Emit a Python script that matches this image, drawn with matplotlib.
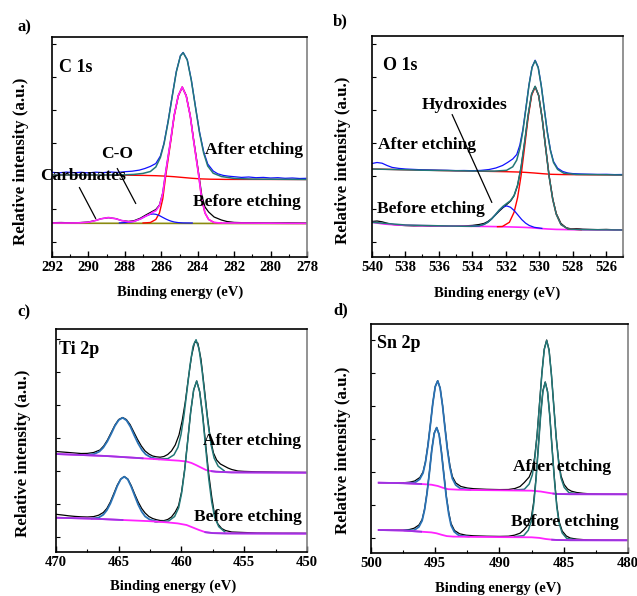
import numpy as np
import matplotlib
matplotlib.use("Agg")
import matplotlib.pyplot as plt
from matplotlib.ticker import MultipleLocator, FixedLocator

# ---------------- panel a : C 1s ----------------
# after etching
a_aft_bg_x = [292, 288, 287, 286.3, 285.8, 285.3, 284.8, 284.3, 283.8, 283.3, 282.5, 278]
a_aft_bg_y = [82, 81.8, 81.6, 81.3, 80.9, 80.3, 79.5, 78.7, 78.1, 77.8, 77.6, 77.5]
a_aft_fit_x = [292, 289, 288, 287.5, 287.0, 286.6, 286.3, 286.05, 285.85, 285.625, 285.4, 285.175, 284.95,
               284.8, 284.575, 284.35, 284.125, 283.9, 283.675, 283.45, 283.15, 282.7, 282, 281, 278]
a_aft_fit_y = [82, 82, 82.2, 82.6, 83.6, 85.5, 90, 99.5, 113, 135, 160.5, 185, 201,
               204.3, 197, 176.5, 150, 124, 104, 91, 83.8, 80.5, 78.6, 77.9, 77.5]
a_aft_raw_x = [292, 291.6, 291.2, 290.8, 290.4, 290, 289.6, 289.2, 288.8, 288.4, 288, 287.6, 287.2, 286.9,
               286.6, 286.3, 286.05, 285.85, 285.625, 285.4, 285.175, 284.95, 284.8, 284.575, 284.35,
               284.125, 283.9, 283.675, 283.45, 283.15, 282.9, 282.6, 282.3, 282, 281.6, 281.2, 280.8,
               280.4, 280, 279.6, 279.2, 278.8, 278.4, 278]
a_aft_raw_y = [84.6, 84.2, 84.9, 84.3, 84.7, 84.1, 84.8, 84.4, 85, 84.6, 85.3, 85.8, 86.9, 88.5,
               90.6, 93.5, 101, 114, 136, 161, 185.5, 201.3, 204.6, 197.4, 177,
               150.5, 125, 105.5, 93, 86, 83.2, 81.6, 80.8, 80.3, 79.6, 80, 79.3,
               79.6, 79, 79.3, 78.7, 79, 78.5, 78.7]
# before etching
a_bef_base_x = [292, 278]
a_bef_base_y = [33.8, 33.4]
a_bef_cc_x = [287.0, 286.6, 286.3, 286.1, 285.92, 285.75, 285.59, 285.47, 285.29, 285.07, 284.85,
              284.63, 284.41, 284.23, 284.11, 283.95, 283.78, 283.6, 283.4, 283.1, 282.7]
a_bef_cc_y = [34, 34.5, 37.5, 44, 58, 82, 102, 117, 141, 161, 170,
              161, 141, 117, 102, 82, 58, 44, 37.5, 34.5, 34]
a_bef_co_x = [288.3, 287.8, 287.5, 287.15, 286.85, 286.6, 286.45, 286.3, 286.1, 285.92, 285.75,
              285.59, 285.47, 285.29, 285.07, 284.8, 284.3]
a_bef_co_y = [34.1, 34.6, 35.5, 38, 40.9, 42.7, 43, 42.7, 41.4, 39.6, 38,
              36.7, 35.9, 35, 34.4, 34.1, 34]
a_bef_fit_x = [292, 291, 290.5, 290, 289.6, 289.3, 288.9, 288.5, 288.2, 287.8, 287.5, 287.15, 286.85,
               286.6, 286.45, 286.3, 286.1, 285.92, 285.75, 285.59, 285.47, 285.29, 285.07, 284.85,
               284.63, 284.41, 284.23, 284.11, 283.95, 283.78, 283.6, 283.4, 283.1, 282.7, 282, 280, 278]
a_bef_fit_y = [34, 34, 34.1, 34.8, 36.5, 38.2, 39.5, 38.2, 36.6, 35.2, 35.7, 38.0, 40.9,
               43.2, 45, 46.2, 51.4, 63.7, 86, 104.7, 118.9, 142, 161.4, 170,
               161, 141, 117, 102, 82, 58, 44, 37.5, 34.5, 34, 34, 33.8, 33.6]
a_bef_raw_x = [292, 291.5, 291, 290.5, 290, 289.6, 289.3, 288.9, 288.5, 288.2, 287.8, 287.5, 287.15,
               286.85, 286.6, 286.45, 286.3, 286.1, 285.92, 285.75, 285.59, 285.47, 285.29, 285.07,
               284.85, 284.63, 284.41, 284.23, 284.11, 283.95, 283.78, 283.6, 283.4, 283.1, 282.7,
               282.4, 282, 281.5, 281, 280, 279, 278]
a_bef_raw_y = [34.3, 34.5, 34.2, 34.4, 35, 36.6, 38.3, 39.3, 38.4, 36.5, 35.6, 36.3, 38.8,
               42, 44.5, 46, 47.5, 52, 64, 86, 104.5, 118.5, 142, 161,
               169.8, 161.5, 141.5, 118, 103.5, 84, 62, 50, 45, 40, 37,
               35.5, 34.6, 34.3, 34.2, 34, 34.1, 33.9]

# ---------------- panel b : O 1s ----------------
b_aft_bg_x = [540, 536, 533, 532, 531.3, 530.8, 530.3, 529.8, 529.3, 528.5, 527, 525]
b_aft_bg_y = [88, 86.5, 85.6, 85.3, 85, 84.6, 84, 83.3, 82.7, 82.4, 82.2, 82]
b_aft_fit_x = [540, 537, 534, 532.69, 531.96, 531.59, 531.35, 531.165, 530.98, 530.8, 530.616, 530.433,
               530.25, 530.067, 529.884, 529.7, 529.518, 529.335, 529.152, 528.908, 528.54, 527.81, 525]
b_aft_fit_y = [88, 86.8, 86, 85.9, 86.65, 90.2, 96.9, 108.5, 126.1, 148.6, 171.9, 189.7,
               196.3, 189.3, 171, 147.2, 124.2, 106.3, 94.5, 87.6, 83.8, 82.6, 82]
b_aft_raw_x = [540, 539.7, 539.4, 539.1, 538.8, 538.4, 538, 537.5, 537, 536.5, 536, 535.5, 535, 534.5,
               534, 533.5, 533, 532.6, 532.2, 531.9, 531.59, 531.35, 531.165, 530.98, 530.8, 530.616,
               530.433, 530.25, 530.067, 529.884, 529.7, 529.518, 529.335, 529.152, 528.908, 528.6,
               528.3, 528, 527.5, 527, 526.5, 526, 525.5, 525]
b_aft_raw_y = [93.5, 94.5, 93.8, 91.5, 89.6, 88.6, 88, 87.6, 87.2, 87, 86.8, 86.7, 86.4, 86.5,
               86.3, 86.6, 87.5, 89, 91.5, 94.5, 98, 102.5, 112, 128, 149.5, 172.5,
               190, 196.8, 189.8, 171.5, 147.8, 125, 107, 95.5, 88.8, 85.5,
               84, 83.4, 83, 82.8, 82.6, 82.7, 82.4, 82.5]
b_bef_bg_x = [540, 539.3, 538.5, 537, 535, 533, 532, 531, 530.5, 530, 529.5, 529, 528, 525]
b_bef_bg_y = [34.7, 33, 32, 31.3, 30.9, 30.5, 30.2, 29.7, 29.3, 28.6, 28, 27.6, 27.3, 27]
b_bef_ox_x = [532.5, 532.21, 531.79, 531.51, 531.3, 531.09, 530.88, 530.67, 530.46, 530.25, 530.04,
              529.83, 529.62, 529.41, 529.2, 528.99, 528.71, 528.29, 527.5]
b_bef_ox_y = [30.3, 30.5, 34.7, 44.7, 59.3, 81.5, 109.9, 139.3, 161.7, 170.1, 161.3,
              138.5, 108.7, 80, 57.6, 42.8, 32.5, 28.05, 27.35]
b_bef_oh_x = [534.05, 533.6, 533.3, 533.075, 532.85, 532.625, 532.4, 532.175, 531.95, 531.725, 531.5,
              531.275, 531.05, 530.825, 530.6, 530.3, 529.85]
b_bef_oh_y = [30.7, 31.2, 32.65, 34.8, 38.05, 42.3, 46.65, 49.9, 51.1, 49.75, 46.4,
              41.9, 37.4, 33.9, 31.5, 29.7, 28.6]
b_bef_fit_x = [540, 538, 536, 534.5, 534.05, 533.6, 533.3, 533.075, 532.85, 532.625, 532.4, 532.175,
               531.95, 531.725, 531.51, 531.3, 531.09, 530.88, 530.67, 530.46, 530.25, 530.04, 529.83,
               529.62, 529.41, 529.2, 528.99, 528.71, 528.29, 527.5, 525]
b_bef_fit_y = [34.7, 32, 31.2, 30.75, 30.7, 31.2, 32.65, 34.8, 38.05, 42.3, 46.9, 50.6,
               53.5, 56.3, 61.5, 71.9, 89.9, 114.9, 142, 163, 170.7, 161.5, 138.5,
               108.7, 80, 57.6, 42.8, 32.5, 28.05, 27.35, 27]
b_bef_raw_x = [540, 539.7, 539.4, 539.1, 538.8, 538.4, 538, 537.5, 537, 536.5, 536, 535.5, 535, 534.5,
               534, 533.6, 533.3, 533.075, 532.85, 532.625, 532.4, 532.175, 531.95, 531.725, 531.51,
               531.3, 531.09, 530.88, 530.67, 530.46, 530.25, 530.04, 529.83, 529.62, 529.41, 529.2,
               528.99, 528.71, 528.4, 528.1, 527.8, 527.4, 527, 526.5, 526, 525.5, 525]
b_bef_raw_y = [35.5, 36, 35.2, 33.8, 32.6, 31.8, 31.4, 31.1, 31.2, 30.9, 31, 30.7, 30.9, 31.1,
               31.6, 32.5, 33.6, 35.5, 38.4, 42, 45.8, 49.3, 52.5, 55.8, 61.2,
               71.5, 89.6, 114.6, 141.6, 162.8, 170.5, 161.6, 138.8, 109.2, 80.6, 58.4,
               43.6, 33.6, 29.3, 28.1, 28.4, 27.8, 27.6, 27.4, 27.6, 27.2, 27.3]

# ---------------- panel c : Ti 2p ----------------
c_aft_bg_x = [470, 466, 463.1, 460.2, 459.6, 459.2, 458.85, 458.45, 458.05, 457.6, 457.25, 456, 450]
c_aft_bg_y = [98, 96, 93.7, 91.3, 90.5, 89, 87, 84.5, 82, 80.8, 80.3, 79.6, 79.3]
c_aft_p1_x = [467.56, 466.95, 466.54, 466.23, 465.92, 465.61, 465.31, 465.0, 464.69,
              464.38, 464.07, 463.77, 463.46, 463.15, 462.85, 462.44, 461.82]
c_aft_p1_y = [97.1, 98, 100.5, 104.4, 110.4, 118, 126, 132, 134.2,
              131.6, 125.2, 116.7, 108.6, 102, 97.6, 94.6, 92.8]
c_aft_p3_x = [462.2, 461.08, 460.6, 460.28, 460.04, 459.8, 459.56, 459.32, 459.08, 458.84,
              458.6, 458.36, 458.12, 457.88, 457.64, 457.4, 457.08, 456.6]
c_aft_p3_y = [92.9, 93.4, 97.2, 104.7, 117.4, 136.8, 161.7, 186.9, 205.7, 212.3,
              202.9, 181.4, 153.7, 127.6, 107.2, 93.9, 85.8, 81.2]
c_aft_raw_x = [470, 469.5, 469, 468.5, 468, 467.5, 467, 466.5, 466.2, 465.9, 465.6, 465.3, 465, 464.69,
               464.4, 464.1, 463.8, 463.5, 463.2, 462.9, 462.6, 462.3, 462, 461.7, 461.4, 461.1, 460.8,
               460.5, 460.2, 459.95, 459.7, 459.45, 459.2, 458.95, 458.7, 458.45, 458.2, 457.95, 457.7,
               457.45, 457.2, 456.9, 456.6, 456.3, 456, 455.5, 455, 454, 453, 452, 451, 450]
c_aft_raw_y = [100.5, 100, 99.5, 99, 98.5, 98.6, 99.5, 102, 106, 112, 119.5, 127, 132.5, 134.5,
               132.5, 127.5, 120, 112.5, 106, 101, 98, 96, 95.2, 94.8, 95.5, 97.5, 101,
               107, 117, 131, 150, 174, 196, 210, 209, 193, 166, 137, 113,
               99, 92, 88, 86, 84, 82.5, 81, 80.6, 80.2, 80, 79.8, 79.7, 79.6]
c_bef_bg_x = [470, 467, 464.7, 462.5, 461.2, 460.3, 459.6, 459.1, 458.6, 458.1, 457.5, 456.5, 450]
c_bef_bg_y = [34.3, 33.3, 32, 30.8, 29.7, 28.6, 27, 24.5, 22, 19.8, 18.9, 18.6, 18.4]
c_bef_p1_x = [467.15, 466.6, 466.23, 465.95, 465.67, 465.39, 465.12, 464.84, 464.56,
              464.28, 464.01, 463.73, 463.45, 463.17, 462.9, 462.52, 461.97]
c_bef_p1_y = [33.4, 34.4, 37.3, 41.7, 48.4, 57.05, 65.9, 72.8, 75.3,
              72.55, 65.4, 56.25, 47.3, 40.3, 35.6, 32.3, 30.6]
c_bef_p3_x = [462.1, 461.03, 460.55, 460.23, 459.99, 459.75, 459.51, 459.27, 459.03, 458.79,
              458.55, 458.31, 458.07, 457.83, 457.59, 457.35, 457.03, 456.55]
c_bef_p3_y = [30.1, 31, 35.5, 44.1, 58.8, 81.4, 110.4, 139.9, 162.2, 171,
              159.8, 135.2, 103.5, 73.3, 49.8, 34.4, 25.3, 20.1]
c_bef_raw_x = [470, 469.5, 469, 468.5, 468, 467.5, 467, 466.6, 466.23, 465.95, 465.67, 465.39, 465.12,
               464.84, 464.56, 464.28, 464.01, 463.73, 463.45, 463.17, 462.9, 462.6, 462.3, 462, 461.7,
               461.4, 461.1, 460.8, 460.5, 460.23, 459.99, 459.75, 459.51, 459.27, 459.03, 458.79,
               458.55, 458.31, 458.07, 457.83, 457.59, 457.35, 457.1, 456.8, 456.5, 456, 455, 454,
               453, 452, 451, 450]
c_bef_raw_y = [37.7, 37, 36.2, 35.6, 35.2, 35, 35.4, 36.8, 39.5, 43.5, 50, 58.5, 66.8,
               73, 75.5, 73, 66.5, 58, 50, 43.5, 39, 35.5, 33.5, 32.3, 31.5,
               31.4, 32.5, 35, 40, 46.5, 60.5, 82.5, 111, 140, 162, 171,
               160.5, 137, 107, 78, 55, 36, 28, 23.5, 21.5, 20, 19.5, 19,
               18.9, 18.8, 18.8, 18.7]

# ---------------- panel d : Sn 2p ----------------
d_aft_bg_x = [499.4, 497.5, 496.1, 495.3, 494.8, 494.4, 494.0, 493.2, 492.2, 490, 487.5, 486.8, 486.25,
              485.8, 485.5, 484.5, 480]
d_aft_bg_y = [70.3, 69.8, 69, 68.3, 67, 65.2, 63.8, 63.3, 63, 62.7, 62.3, 61.5, 60.3,
              59.4, 59, 58.8, 58.7]
d_aft_p1_x = [497.35, 496.59, 496.21, 495.95, 495.76, 495.57, 495.38, 495.19, 495.0, 494.81,
              494.62, 494.43, 494.24, 494.05, 493.86, 493.67, 493.41, 493.03, 492.27]
d_aft_p1_y = [70, 70.35, 73.75, 79.95, 90.7, 107.1, 128.1, 149.8, 166.4, 172.1,
              164.7, 147.1, 124.5, 102.6, 85.6, 74.5, 68, 64.25, 63.3]
d_aft_p3_x = [488.81, 488.066, 487.694, 487.446, 487.26, 487.074, 486.888, 486.702, 486.516, 486.33,
              486.144, 485.958, 485.772, 485.586, 485.4, 485.214, 484.966, 484.594, 483.85]
d_aft_p3_y = [63, 63.7, 68.9, 78.1, 93.8, 117.6, 148, 179.5, 203.5, 212.5,
              202.7, 178.1, 145.95, 115, 90.85, 75, 65.65, 60.3, 59.25]
d_aft_raw_x = [499.4, 498.5, 497.5, 497, 496.6, 496.2, 495.95, 495.76, 495.57, 495.38, 495.19, 495.0,
               494.81, 494.62, 494.43, 494.24, 494.05, 493.86, 493.67, 493.4, 493.0, 492.5, 492, 491,
               490, 489.3, 488.8, 488.4, 488.07, 487.69, 487.45, 487.26, 487.07, 486.89, 486.7, 486.52,
               486.33, 486.14, 485.96, 485.77, 485.59, 485.4, 485.21, 484.97, 484.7, 484.4, 484, 483.5,
               483, 482, 481, 480]
d_aft_raw_y = [70.3, 70.2, 70.2, 70.8, 72, 75.5, 81, 91.5, 108, 128.5, 150, 166.5,
               172.3, 165, 147.5, 125.5, 104, 87.5, 76.5, 70, 66.5, 65, 64.3, 63.7,
               63.4, 63.5, 64.5, 66.5, 70.5, 76, 83.5, 96, 119, 149, 180, 203.8,
               213, 203, 178.5, 146.5, 116, 92.5, 77, 68.5, 64, 61.8, 60.5, 59.7,
               59.2, 58.9, 58.8, 58.7]
d_bef_bg_x = [499.4, 497.5, 496.1, 495.3, 494.9, 494.5, 494.1, 493.6, 492, 490, 487.5, 486.9, 486.4,
              485.9, 485.5, 484.5, 480]
d_bef_bg_y = [23, 22.5, 21.3, 20.6, 19.7, 18.2, 16.9, 16.4, 16.1, 15.9, 15.7, 15.1, 14,
              13.3, 13, 12.8, 12.7]
d_bef_p1_x = [497.39, 496.64, 496.27, 496.02, 495.83, 495.64, 495.45, 495.27, 495.08, 494.89,
              494.7, 494.52, 494.33, 494.14, 493.95, 493.77, 493.52, 493.14, 492.39]
d_bef_p1_y = [22.7, 22.75, 26.15, 32.35, 43.2, 59.7, 80.9, 102.8, 119.4, 125.4,
              118.3, 100.7, 77.9, 55.9, 38.9, 27.7, 21.2, 17.35, 16.5]
d_bef_p3_x = [488.84, 488.12, 487.76, 487.52, 487.34, 487.16, 486.98, 486.8, 486.62, 486.44,
              486.26, 486.08, 485.9, 485.72, 485.54, 485.36, 485.12, 484.76, 484.04]
d_bef_p3_y = [16.35, 17.35, 22.75, 32.15, 48.35, 73.05, 104.45, 137.05, 161.7, 170.8,
              160.9, 135.65, 102.6, 71.95, 45.9, 29.55, 20, 14.45, 13.3]
d_bef_raw_x = [499.4, 498.5, 497.5, 497, 496.64, 496.27, 496.02, 495.83, 495.64, 495.45, 495.27, 495.08,
               494.89, 494.7, 494.52, 494.33, 494.14, 493.95, 493.77, 493.5, 493.1, 492.6, 492, 491,
               490, 489.3, 488.84, 488.4, 488.12, 487.76, 487.52, 487.34, 487.16, 486.98, 486.8,
               486.62, 486.44, 486.26, 486.08, 485.9, 485.72, 485.54, 485.36, 485.12, 484.8, 484.5,
               484, 483.5, 483, 482, 481, 480]
d_bef_raw_y = [23, 22.9, 22.9, 23.5, 24.8, 28, 33.5, 44, 60.5, 81.5, 103.5, 120,
               125.5, 118.8, 101.5, 78.8, 57, 40.5, 29.5, 22.5, 19.2, 17.8, 17.2, 16.8,
               16.6, 16.8, 17.8, 19.8, 23, 28.5, 36, 51, 75, 106.5, 138.5,
               162.5, 171, 161.5, 136.5, 104, 73.5, 48, 31.5, 22, 17, 15,
               13.9, 13.4, 13.1, 12.9, 12.8, 12.7]

# leader lines (text end -> curve point)
a_carb_line = [(290.57, 72), (289.53, 36)]
a_co_line = [(288.49, 91), (287.33, 51)]
b_oh_line = [(535.28, 145), (532.77, 52)]

plt.rcParams['font.family'] = ['Liberation Serif', 'DejaVu Serif']
plt.rcParams['font.weight'] = 'bold'

TEAL = '#237878'
BLUE = '#1010ff'
PBLUE = '#2a72b5'
MAG = '#ff22ff'
PURP = '#9a35e0'
OLIVE = '#8a8a10'

fig = plt.figure(figsize=(6.37, 5.96), dpi=100)

W, H = 637.0, 596.0


def make_ax(left, top, right, bottom, xlim, ylim_top, major, minor):
    ax = fig.add_axes([left / W, 1 - bottom / H, (right - left) / W, (bottom - top) / H])
    ax.set_xlim(*xlim)
    ax.set_ylim(0, ylim_top)
    ax.xaxis.set_major_locator(MultipleLocator(major))
    ax.xaxis.set_minor_locator(MultipleLocator(minor))
    ax.yaxis.set_major_locator(FixedLocator(np.arange(15, ylim_top, 33)))
    ax.set_yticklabels([])
    ax.tick_params(axis='x', which='major', direction='in', length=4, width=1, labelsize=10.5, pad=3)
    ax.tick_params(axis='x', which='minor', direction='in', length=2, width=0.8)
    ax.tick_params(axis='y', which='major', direction='in', length=3, width=0.8)
    for s in ['left', 'bottom', 'top']:
        ax.spines[s].set_linewidth(1.2)
    ax.spines['right'].set_color('#808080')
    ax.spines['right'].set_linewidth(1.2)
    for lab in ax.get_xticklabels():
        lab.set_fontweight('bold')
    ax.set_xlabel('Binding energy (eV)', fontsize=10.5, fontweight='bold')
    ax.set_ylabel('Relative intensity (a.u.)', fontsize=12.2, fontweight='bold')
    ax.xaxis.label.set_va('center')
    ax.yaxis.label.set_va('center')
    return ax


TXT = dict(fontsize=12.5, fontweight='bold', va='center', ha='left')
TTL = dict(fontsize=13, fontweight='bold', va='center', ha='left')

# ---- a ----
ax = make_ax(52, 37, 307, 257, (292, 278), 220, 2, 1)
ax.xaxis.set_label_coords(0.502, -0.159)
ax.yaxis.set_label_coords(-0.122, 0.436)
ax.plot(a_aft_bg_x, a_aft_bg_y, color='red', lw=1.0)
ax.plot(a_aft_raw_x, a_aft_raw_y, color=BLUE, lw=0.9)
ax.plot(a_aft_fit_x, a_aft_fit_y, color=TEAL, lw=1.1)
ax.plot(a_bef_base_x, a_bef_base_y, color=OLIVE, lw=1.2)
ax.plot(a_bef_raw_x, a_bef_raw_y, color='black', lw=0.9)
ax.plot(a_bef_cc_x, a_bef_cc_y, color='red', lw=1.0)
ax.plot(a_bef_co_x, a_bef_co_y, color=BLUE, lw=0.9)
ax.plot(a_bef_fit_x, a_bef_fit_y, color=MAG, lw=1.2)
ax.text(291.6, 190, 'C 1s', **TTL)
ax.text(283.6, 107, 'After etching', **TXT)
ax.text(284.26, 55, 'Before etching', **TXT)
ax.text(288.43, 103, 'C-O', fontsize=12.5, fontweight='bold', va='center', ha='center')
ax.text(292.66, 81, 'Carbonates', **TXT)
ax.annotate('', xy=a_carb_line[1], xytext=a_carb_line[0], arrowprops=dict(arrowstyle='-', lw=0.9, color='black'))
ax.annotate('', xy=a_co_line[1], xytext=a_co_line[0], arrowprops=dict(arrowstyle='-', lw=0.9, color='black'))

# ---- b ----
ax = make_ax(372, 36, 623, 257, (540, 525), 221, 2, 1)
ax.xaxis.set_label_coords(0.498, -0.163)
ax.yaxis.set_label_coords(-0.116, 0.438)
ax.plot(b_aft_bg_x, b_aft_bg_y, color='red', lw=1.0)
ax.plot(b_aft_raw_x, b_aft_raw_y, color=BLUE, lw=0.9)
ax.plot(b_aft_fit_x, b_aft_fit_y, color=TEAL, lw=1.1)
ax.plot(b_bef_raw_x, b_bef_raw_y, color='black', lw=0.9)
ax.plot(b_bef_bg_x, b_bef_bg_y, color=MAG, lw=1.2)
ax.plot(b_bef_ox_x, b_bef_ox_y, color='red', lw=1.0)
ax.plot(b_bef_oh_x, b_bef_oh_y, color=BLUE, lw=0.9)
ax.plot(b_bef_fit_x, b_bef_fit_y, color=TEAL, lw=1.1)
ax.text(539.34, 192, 'O 1s', **TTL)
ax.text(537.01, 152, 'Hydroxides', **TXT)
ax.text(539.64, 112, 'After etching', **TXT)
ax.text(539.7, 48, 'Before etching', **TXT)
ax.annotate('', xy=b_oh_line[1], xytext=b_oh_line[0], arrowprops=dict(arrowstyle='-', lw=0.9, color='black'))

# ---- c ----
ax = make_ax(56, 329, 307, 552, (470, 450), 223, 5, 2.5)
ax.xaxis.set_label_coords(0.466, -0.152)
ax.yaxis.set_label_coords(-0.131, 0.444)
for bx, by, p1x, p1y, p3x, p3y, rx, ry in [
        (c_aft_bg_x, c_aft_bg_y, c_aft_p1_x, c_aft_p1_y, c_aft_p3_x, c_aft_p3_y, c_aft_raw_x, c_aft_raw_y),
        (c_bef_bg_x, c_bef_bg_y, c_bef_p1_x, c_bef_p1_y, c_bef_p3_x, c_bef_p3_y, c_bef_raw_x, c_bef_raw_y)]:
    ax.plot(rx, ry, color='black', lw=0.9)
    ax.plot(p1x, p1y, color=PBLUE, lw=1.3)
    ax.plot(p3x, p3y, color=TEAL, lw=1.1)
    ax.plot(bx, by, color=MAG, lw=1.3)
    ax.plot(bx[:3], by[:3], color=PURP, lw=1.3)
    ax.plot(bx[-4:], by[-4:], color=PURP, lw=1.3)
ax.text(469.76, 203, 'Ti 2p', **TTL)
ax.text(458.29, 111, 'After etching', **TXT)
ax.text(459.0, 35, 'Before etching', **TXT)

# ---- d ----
ax = make_ax(371, 324, 628, 553, (500, 480), 229, 5, 2.5)
ax.xaxis.set_label_coords(0.494, -0.153)
ax.yaxis.set_label_coords(-0.109, 0.45)
for bx, by, p1x, p1y, p3x, p3y, rx, ry in [
        (d_aft_bg_x, d_aft_bg_y, d_aft_p1_x, d_aft_p1_y, d_aft_p3_x, d_aft_p3_y, d_aft_raw_x, d_aft_raw_y),
        (d_bef_bg_x, d_bef_bg_y, d_bef_p1_x, d_bef_p1_y, d_bef_p3_x, d_bef_p3_y, d_bef_raw_x, d_bef_raw_y)]:
    ax.plot(rx, ry, color='black', lw=0.9)
    ax.plot(p1x, p1y, color=PBLUE, lw=1.3)
    ax.plot(p3x, p3y, color=TEAL, lw=1.1)
    ax.plot(bx, by, color=MAG, lw=1.3)
    ax.plot(bx[:3], by[:3], color=PURP, lw=1.3)
    ax.plot(bx[-4:], by[-4:], color=PURP, lw=1.3)
ax.text(499.53, 210, 'Sn 2p', **TTL)
ax.text(488.95, 86, 'After etching', **TXT)
ax.text(489.1, 31, 'Before etching', **TXT)

# panel letters
for lab, px, py in [('a)', 17, 27), ('b)', 333, 21), ('c)', 17, 312), ('d)', 333, 310)]:
    fig.text(px / W, 1 - py / H, lab, fontsize=12, fontweight='bold', va='center', ha='left')

fig.savefig('out.png', dpi=100)
